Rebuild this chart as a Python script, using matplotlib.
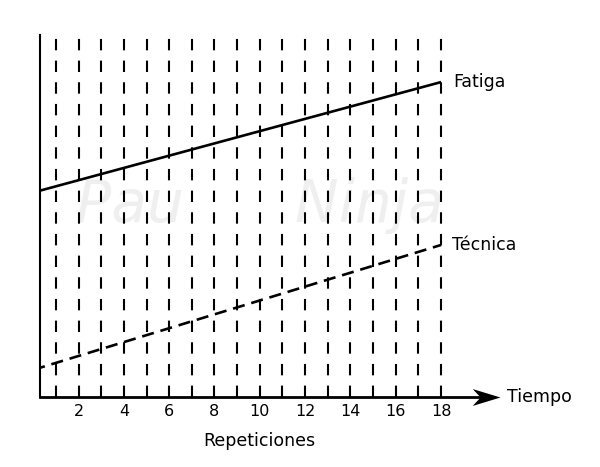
import matplotlib.pyplot as plt
from matplotlib.path import Path

# data
repeticiones = [0, 18]
fatiga = [5.65, 8.7]
tecnica = [0.75, 4.2]
xticks = [2, 4, 6, 8, 10, 12, 14, 16, 18]
grid_x = list(range(1, 19))

plt.rcParams["font.family"] = ["DejaVu Sans"]
LABEL_SIZE = 12.5
TICK_SIZE = 11.5

fig = plt.figure(figsize=(6.0, 4.67), dpi=100)
ax = fig.add_axes([40 / 600, 1 - 397 / 467, 460 / 600, 362 / 467])
x0, x1 = 0.3, 20.6
ax.set_xlim(x0, x1)
ax.set_ylim(0, 10)

# faint watermark
ax.text(10.0, 5.3, "Pau      Ninja", color="#efefef", fontsize=42, style="italic",
        fontweight="light", ha="center", va="center", zorder=0)

lw_grid = 1.5
for gx in grid_x:
    ax.axvline(gx, color="black", lw=lw_grid, linestyle=(0, (8.2 / lw_grid, 7.4 / lw_grid)),
               zorder=1)

ax.plot(repeticiones, fatiga, color="black", lw=1.9, solid_capstyle="butt", zorder=3)
ax.plot(repeticiones, tecnica, color="black", lw=1.9, linestyle=(0, (4.6, 2.6)), zorder=3)

ax.annotate("Fatiga", xy=(repeticiones[-1], fatiga[-1]), xytext=(9, 0),
            textcoords="offset points", va="center", ha="left", fontsize=LABEL_SIZE)
ax.annotate("Técnica", xy=(repeticiones[-1], tecnica[-1]), xytext=(8, 0),
            textcoords="offset points", va="center", ha="left", fontsize=LABEL_SIZE)

# axes: left line and arrowed bottom line with a notched head
for side in ["top", "right", "bottom"]:
    ax.spines[side].set_visible(False)
ax.spines["left"].set_linewidth(1.5)
ax.set_yticks([])
head = Path([(0, 0), (-28, 8.5), (-20, 0), (-28, -8.5), (0, 0)],
            [Path.MOVETO, Path.LINETO, Path.LINETO, Path.LINETO, Path.CLOSEPOLY])
ax.plot([x0, x1 - 0.8], [0, 0], color="black", lw=2.0, clip_on=False, zorder=4)
ax.plot([x1], [0], marker=head, ms=40, color="black", mew=0, clip_on=False, zorder=4)
ax.annotate("Tiempo", xy=(x1, 0), xytext=(5, 0), textcoords="offset points",
            va="center", ha="left", fontsize=LABEL_SIZE, annotation_clip=False)

ax.set_xticks(xticks)
ax.set_xticklabels([str(t) for t in xticks], fontsize=TICK_SIZE)
ax.tick_params(axis="x", length=0, pad=5)

ax.text(10.0, -0.122, "Repeticiones", transform=ax.get_xaxis_transform(),
        ha="center", va="center", fontsize=LABEL_SIZE)

fig.savefig("out.png", dpi=100)
